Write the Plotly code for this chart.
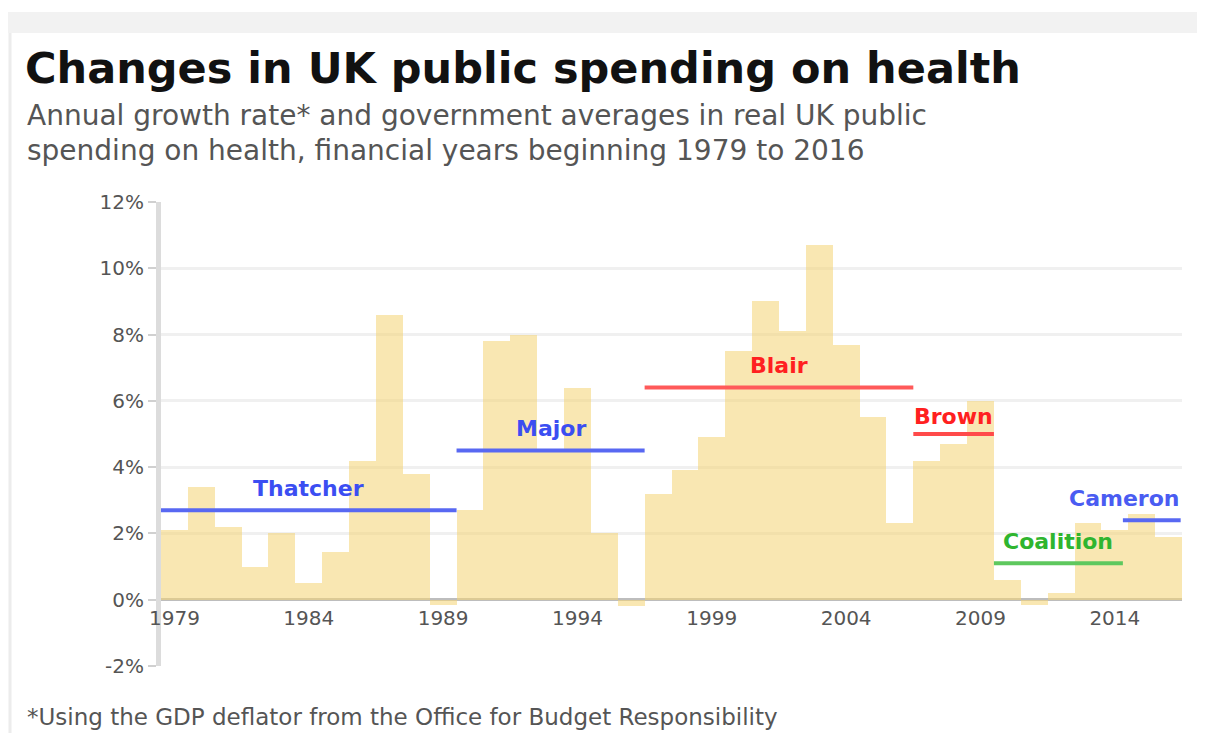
import plotly.graph_objects as go

# ---------------- data ----------------
years = list(range(1979, 2017))
growth = [2.1, 3.4, 2.2, 1.0, 2.0, 0.5, 1.45, 4.2, 8.6, 3.8,
          -0.15, 2.7, 7.8, 8.0, 4.5, 6.4, 2.0, -0.2, 3.2, 3.9,
          4.9, 7.5, 9.0, 8.1, 10.7, 7.7, 5.5, 2.3, 4.2, 4.7,
          6.0, 0.6, -0.15, 0.2, 2.3, 2.1, 2.6, 1.9]

gov_names = ["Thatcher", "Major", "Blair", "Brown", "Coalition", "Cameron"]
gov_start = [1978.5, 1989.5, 1996.5, 2006.5, 2009.5, 2014.3]
gov_end = [1989.5, 1996.5, 2006.5, 2009.5, 2014.3, 2016.45]
gov_avg = [2.7, 4.5, 6.4, 5.0, 1.1, 2.4]
gov_line_colors = ["#5868f2", "#5868f2", "#ff5a5a", "#ff4a4a", "#5ec85e", "#5868f2"]
gov_text_colors = ["#3b4ef2", "#3b4ef2", "#ff2020", "#ff2020", "#2fb52f", "#4a5cf2"]

x_ticks = [1979, 1984, 1989, 1994, 1999, 2004, 2009, 2014]
y_ticks = [-2, 0, 2, 4, 6, 8, 10, 12]

title = "Changes in UK public spending on health"
subtitle_1 = "Annual growth rate* and government averages in real UK public"
subtitle_2 = "spending on health, financial years beginning 1979 to 2016"
footnote = "*Using the GDP deflator from the Office for Budget Responsibility"

# ---------------- layout geometry (reference pixels) ----------------
W, H = 1205, 733
OFF = 8  # page body margin: the figure is drawn starting at (8, 8)
PL, PR, PT, PB = 161, 1182, 202, 666
FONT = "DejaVu Sans"
FW, FH = W - OFF, H - OFF


def px_x(px):
    return (px - PL) / (PR - PL)


def px_y(py):
    return (PB - py) / (PB - PT)


fig = go.Figure()

fig.add_trace(go.Bar(
    x=years, y=growth, width=1,
    marker=dict(color="rgba(245,213,118,0.56)", line=dict(width=0)),
    hoverinfo="skip", showlegend=False,
))

for name, s, e, a, lc in zip(gov_names, gov_start, gov_end, gov_avg, gov_line_colors):
    fig.add_trace(go.Scatter(
        x=[s, e], y=[a, a], mode="lines",
        line=dict(color=lc, width=4),
        hoverinfo="skip", showlegend=False,
    ))

annotations = []
for name, s, e, a, tc in zip(gov_names, gov_start, gov_end, gov_avg, gov_text_colors):
    if name == "Cameron":
        annotations.append(dict(x=e, y=a, xref="x", yref="y", text="<b>%s</b>" % name,
                                showarrow=False, xanchor="right", yanchor="middle", yshift=22,
                                font=dict(family=FONT, size=22, color=tc)))
    else:
        annotations.append(dict(x=(s + e) / 2, y=a, xref="x", yref="y", text="<b>%s</b>" % name,
                                showarrow=False, xanchor="center", yanchor="middle",
                                yshift=18 if name == "Brown" else 22,
                                font=dict(family=FONT, size=22, color=tc)))

annotations += [
    dict(x=px_x(25), y=px_y(115), xref="paper", yref="paper", text=subtitle_1, showarrow=False,
         xanchor="left", yanchor="middle", font=dict(family=FONT, size=28, color="#555555")),
    dict(x=px_x(25), y=px_y(150), xref="paper", yref="paper", text=subtitle_2, showarrow=False,
         xanchor="left", yanchor="middle", font=dict(family=FONT, size=28, color="#555555")),
    dict(x=px_x(25), y=px_y(717), xref="paper", yref="paper", text=footnote, showarrow=False,
         xanchor="left", yanchor="middle", font=dict(family=FONT, size=23, color="#555555")),
]

shapes = [
    dict(type="rect", xref="paper", yref="paper", x0=px_x(OFF), x1=px_x(W), y0=px_y(33), y1=px_y(12),
         fillcolor="#f2f2f2", line=dict(width=0), layer="below"),
    dict(type="line", xref="paper", yref="paper", x0=px_x(10), x1=px_x(10), y0=px_y(33), y1=px_y(H),
         line=dict(color="#ececec", width=3), layer="below"),
]

fig.update_layout(
    width=FW, height=FH,
    margin=dict(l=PL - OFF, r=W - PR, t=PT - OFF, b=H - PB, pad=0),
    paper_bgcolor="white", plot_bgcolor="white",
    title=dict(text="<b>%s</b>" % title, x=(25 - OFF) / FW, xanchor="left", xref="container",
               y=1 - (68 - OFF) / FH, yanchor="middle", yref="container",
               font=dict(family=FONT, size=43, color="#111111")),
    annotations=annotations,
    shapes=shapes,
    showlegend=False,
    bargap=0,
    xaxis=dict(range=[1978.5, 2016.5], tickvals=x_ticks, ticktext=[str(v) for v in x_ticks],
               showgrid=False, zeroline=False, showline=False, ticks="",
               anchor="free", position=2 / 14, ticklabelstandoff=4,
               tickfont=dict(family=FONT, size=20, color="#555555")),
    yaxis=dict(range=[-2, 12], tickvals=y_ticks, ticktext=["%d%%" % v for v in y_ticks],
               showgrid=True, gridcolor="#f0f0f0", gridwidth=3,
               zeroline=True, zerolinecolor="#bdbdbd", zerolinewidth=3,
               showline=True, linecolor="#dcdcdc", linewidth=5,
               ticks="outside", ticklen=8, tickcolor="#d0d0d0", tickwidth=2,
               tickfont=dict(family=FONT, size=20, color="#555555")),
)

fig.write_html("out.html")
